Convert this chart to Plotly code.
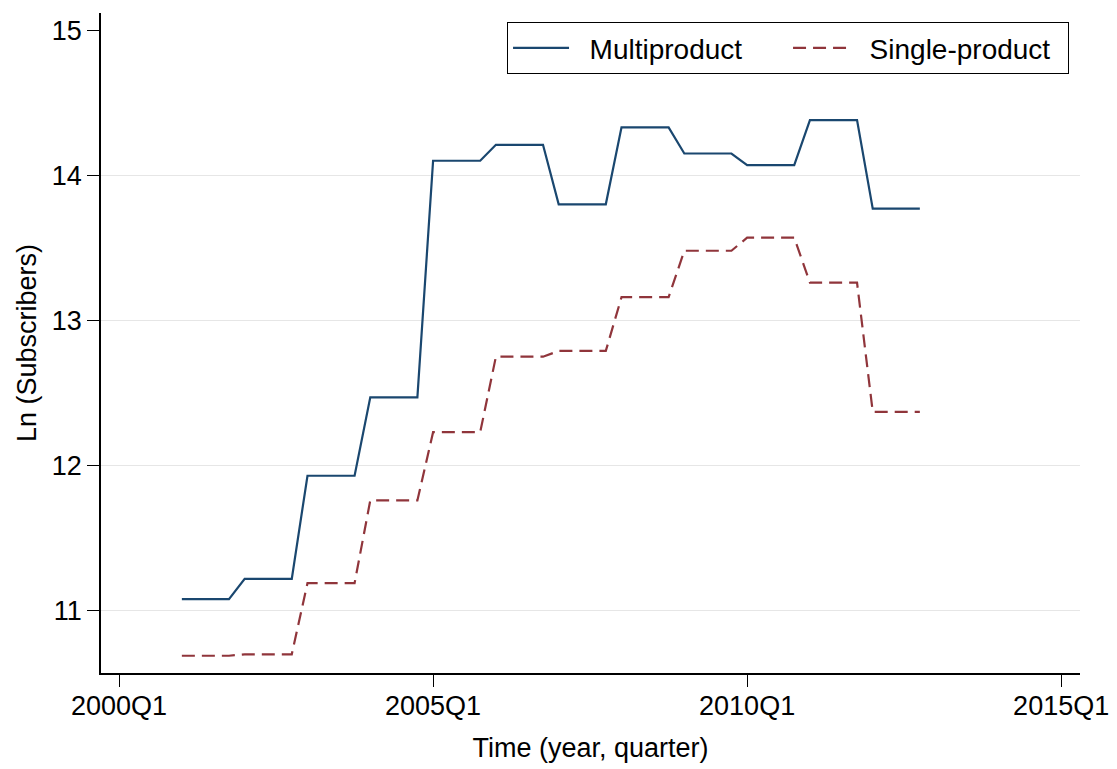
import plotly.graph_objects as go

# Quarter labels (2001Q1 .. 2012Q4) and their positions (quarters since 2000Q1)
quarters = [f"{y}Q{q}" for y in range(2001, 2013) for q in range(1, 5)]
quarter_index = [(int(s[:4]) - 2000) * 4 + int(s[-1]) - 1 for s in quarters]

multiproduct = [
    11.08, 11.08, 11.08, 11.08,
    11.22, 11.22, 11.22, 11.22,
    11.93, 11.93, 11.93, 11.93,
    12.47, 12.47, 12.47, 12.47,
    14.10, 14.10, 14.10, 14.10,
    14.21, 14.21, 14.21, 14.21,
    13.80, 13.80, 13.80, 13.80,
    14.33, 14.33, 14.33, 14.33,
    14.15, 14.15, 14.15, 14.15,
    14.07, 14.07, 14.07, 14.07,
    14.38, 14.38, 14.38, 14.38,
    13.77, 13.77, 13.77, 13.77,
]
single_product = [
    10.69, 10.69, 10.69, 10.69,
    10.70, 10.70, 10.70, 10.70,
    11.19, 11.19, 11.19, 11.19,
    11.76, 11.76, 11.76, 11.76,
    12.23, 12.23, 12.23, 12.23,
    12.75, 12.75, 12.75, 12.75,
    12.79, 12.79, 12.79, 12.79,
    13.16, 13.16, 13.16, 13.16,
    13.48, 13.48, 13.48, 13.48,
    13.57, 13.57, 13.57, 13.57,
    13.26, 13.26, 13.26, 13.26,
    12.37, 12.37, 12.37, 12.37,
]

x_tick_vals = [0, 20, 40, 60]
x_tick_text = ["2000Q1", "2005Q1", "2010Q1", "2015Q1"]
y_tick_vals = [11, 12, 13, 14, 15]
y_grid_vals = [11, 12, 13, 14]

FONT = "Liberation Sans, Arial, Helvetica, sans-serif"
BLUE = "#1a476f"
RED = "#90353b"
NB = "\u00a0\u00a0"

fig = go.Figure()
fig.add_trace(go.Scatter(
    x=quarter_index, y=multiproduct, mode="lines", name=NB + "Multiproduct",
    line=dict(color=BLUE, width=2.2),
))
fig.add_trace(go.Scatter(
    x=quarter_index, y=single_product, mode="lines", name=NB + "Single-product",
    line=dict(color=RED, width=2.2, dash="13px,7px"),
))
# helper (invisible) trace so the grid axis is drawn
fig.add_trace(go.Scatter(x=[None], y=[None], yaxis="y2", showlegend=False,
                         hoverinfo="skip"))

yrange = [10.571, 15.118]
# the page body adds an 8px offset, so the figure is 8px smaller
fig.update_layout(
    width=1109, height=761,
    margin=dict(l=93, r=37, t=5, b=96),
    paper_bgcolor="white", plot_bgcolor="white",
    font=dict(family=FONT, size=27, color="black"),
    showlegend=True,
    legend=dict(
        orientation="h", x=0.9888, xanchor="right", y=0.986, yanchor="top",
        bordercolor="black", borderwidth=1, bgcolor="white",
        font=dict(family=FONT, size=28, color="black"),
        itemwidth=56, entrywidth=209, entrywidthmode="pixels",
        tracegroupgap=0,
    ),
    xaxis=dict(
        range=[-1.15, 61.2], tickvals=x_tick_vals, ticktext=x_tick_text,
        showgrid=False, zeroline=False, showline=True, linecolor="black",
        linewidth=1.6, ticks="outside", ticklen=12, tickwidth=1.3,
        tickcolor="black", automargin=False, ticklabelstandoff=-4,
        title=dict(text="Time (year, quarter)", standoff=18,
                   font=dict(size=27)),
        tickfont=dict(size=27),
    ),
    yaxis=dict(
        range=yrange, tickvals=y_tick_vals, showgrid=False, zeroline=False,
        showline=True, linecolor="black", linewidth=1.6, ticks="outside",
        ticklen=12, tickwidth=1.3, tickcolor="black", automargin=False,
        title=dict(text="Ln (Subscribers)", standoff=7, font=dict(size=27)),
        tickfont=dict(size=27),
    ),
    yaxis2=dict(
        range=yrange, overlaying="y", tickvals=y_grid_vals, showgrid=True,
        gridcolor="#e6e6e6", gridwidth=1.2, showticklabels=False, ticks="",
        showline=False, zeroline=False, automargin=False,
    ),
)

fig.write_html("out.html")
